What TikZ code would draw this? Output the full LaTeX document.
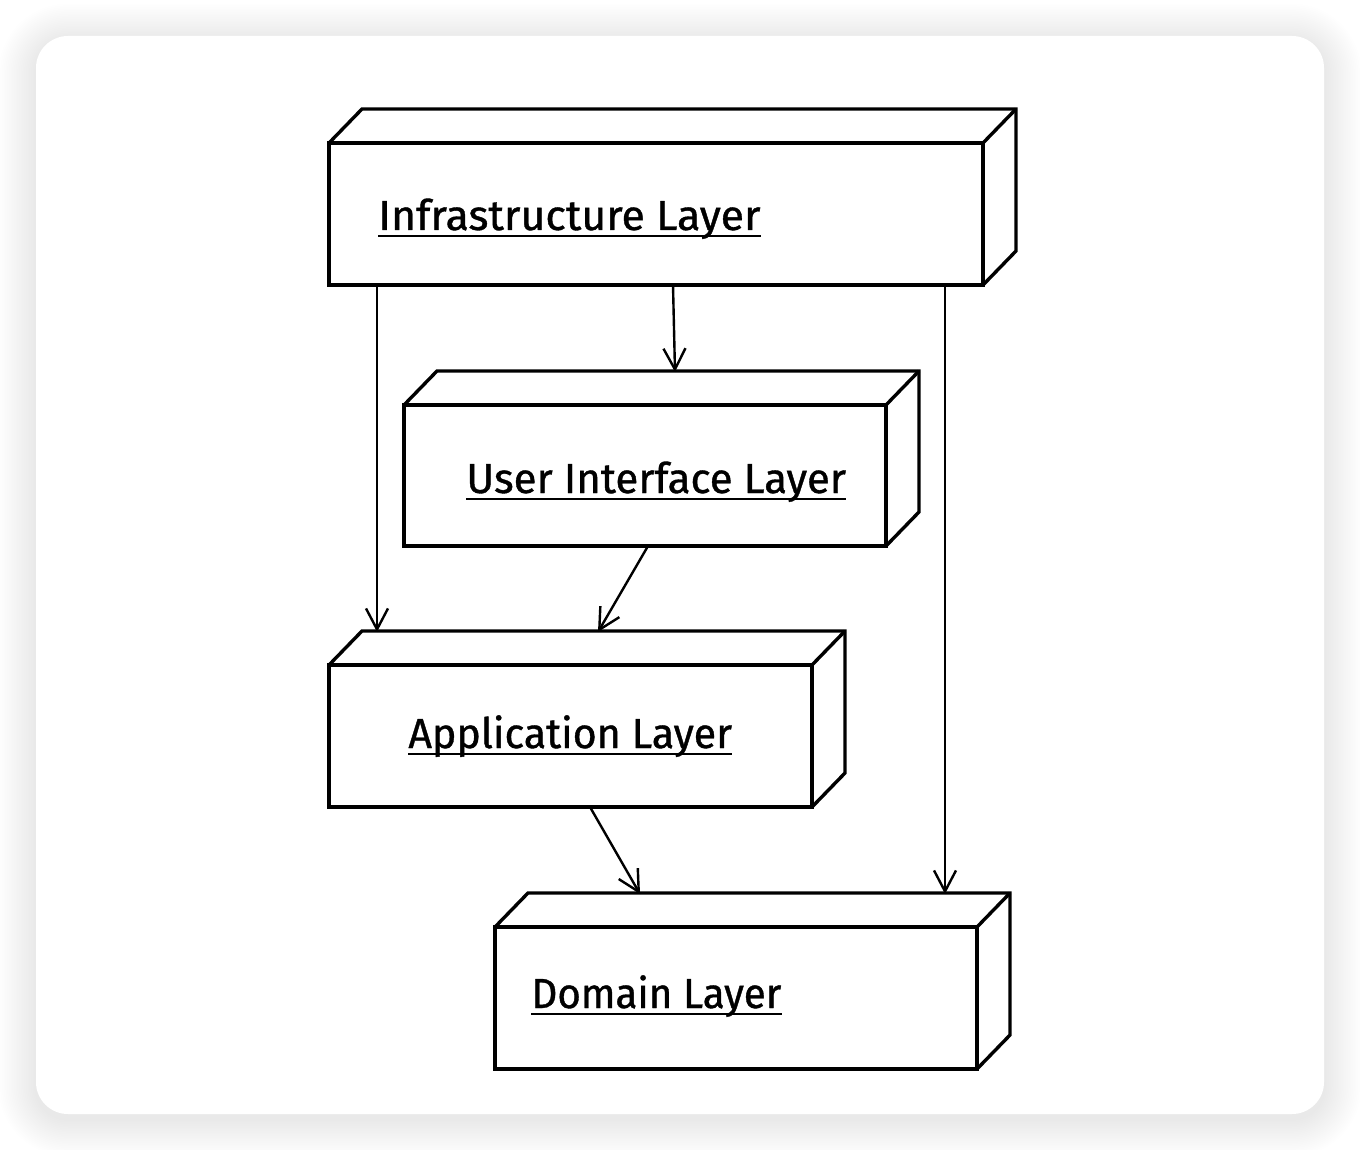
\documentclass[tikz,border=0pt]{standalone}
\usepackage{fontspec}
\setmainfont{Fira Sans}[AutoFakeBold=0.9]
\usetikzlibrary{arrows.meta,calc}

\tikzset{
  layer/.style={draw, line width=1.7pt, fill=white, outer sep=0pt, inner sep=0pt, anchor=north west},
  face/.style={draw, line width=1.7pt, line join=miter},
  label/.style={anchor=base west, inner sep=0pt, font=\fontsize{21}{24}\selectfont\bfseries},
  uline/.style={line width=1.1pt},
  dep/.style={line width=1.2pt, -{Straight Barb[length=10.5pt,width=11pt]}},
}

% draws the top and side faces of a layer block
\newcommand{\blockfaces}[1]{%
  \draw[face] (#1.north west) -- ++(33,-34) -- ($(#1.north east)+(33,-34)$)
     -- ($(#1.south east)+(33,-34)$) -- (#1.south east);
  \draw[face] (#1.north east) -- ($(#1.north east)+(33,-34)$);
}
% underlined block title: name, base-left position, horizontal scale, text
\newcommand{\layertitle}[4]{%
  \node[label] (#1) at (#2) {\scalebox{#3}[1]{#4}};
  \draw[uline] ($(#1.base west)+(0,6)$) -- ($(#1.base east)+(0,6)$);
}

\begin{document}
\begin{tikzpicture}[x=0.5pt, y=-0.5pt]
  \useasboundingbox (0,0) rectangle (1360,1150);

  % card with soft shadow
  \foreach \i in {1,...,22}
    \fill[black, opacity=0.0055, rounded corners={(32+\i*1.7)*0.5pt}]
      (36-\i*1.7,41-\i*1.7) rectangle (1324+\i*1.7,1119+\i*1.7);
  \fill[white, rounded corners=16pt] (36,36) rectangle (1324,1114);

  % blocks
  \node[layer, minimum width=327pt, minimum height=71pt] (infra) at (329,143) {};
  \blockfaces{infra}
  \node[layer, minimum width=241pt, minimum height=70.5pt] (ui) at (404,405) {};
  \blockfaces{ui}
  \node[layer, minimum width=241.5pt, minimum height=71pt] (app) at (329,665) {};
  \blockfaces{app}
  \node[layer, minimum width=241pt, minimum height=71pt] (dom) at (495,927) {};
  \blockfaces{dom}

  % titles
  \layertitle{tinfra}{378,230}{1.02}{Infrastructure Layer}
  \layertitle{tui}{466,493}{1.0}{User Interface Layer}
  \layertitle{tapp}{408,748}{0.98}{Application Layer}
  \layertitle{tdom}{531,1008}{0.96}{Domain Layer}

  % dependencies
  \draw[dep] ($(infra.south west)+(48,0)$) -- ($(app.north west)+(48,-33)$);
  \draw[dep] ($(infra.south west)+(344,0)$) -- ($(ui.north west)+(271,-33)$);
  \draw[dep] ($(infra.south west)+(616,0)$) -- ($(dom.north west)+(450,-33)$);
  \draw[dep] ($(ui.south west)+(244,0)$) -- ($(app.north west)+(269,-33)$);
  \draw[dep] ($(app.south west)+(261,0)$) -- ($(dom.north west)+(145,-33)$);
\end{tikzpicture}
\end{document}
